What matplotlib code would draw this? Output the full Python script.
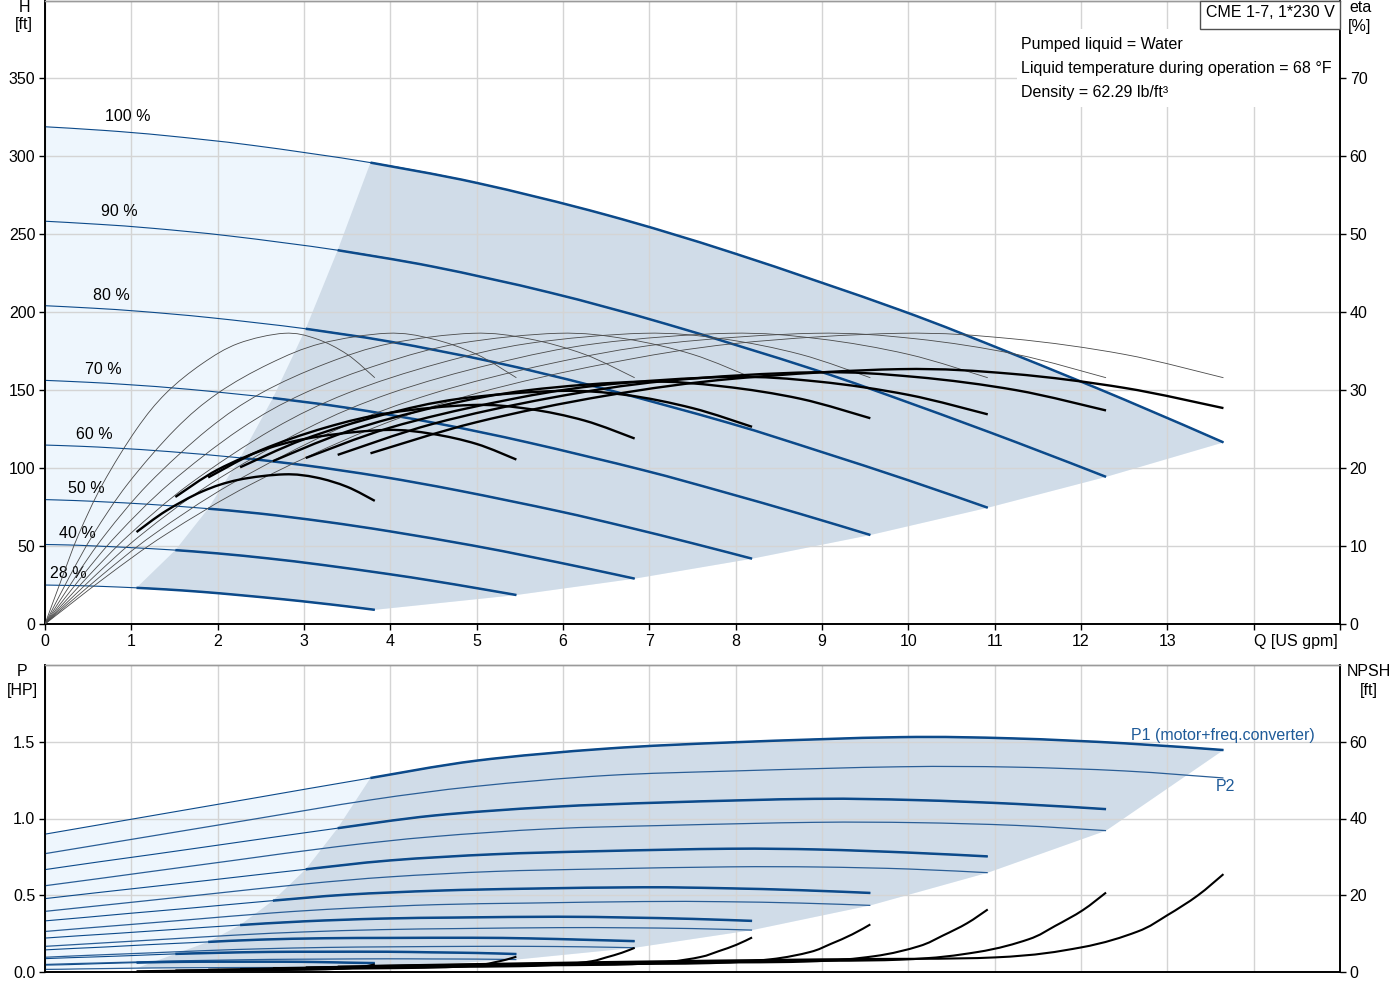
import matplotlib
matplotlib.use('Agg')
import matplotlib.pyplot as plt
from matplotlib.patches import Rectangle, Polygon, PathPatch
from matplotlib.path import Path

plt.rcParams['font.family'] = ['Liberation Sans', 'DejaVu Sans']
plt.rcParams['font.size'] = 11.5

# ---------------- data ----------------
speeds = [100, 90, 80, 70, 60, 50, 40, 28]
speed_labels = ['100 %', '90 %', '80 %', '70 %', '60 %', '50 %', '40 %', '28 %']

# flow points for each speed curve [US gpm]
q_100 = [0, 0.7, 1.4, 2.4, 3.77, 5.0, 6.5, 8.0, 9.9, 11.2, 12.5, 13.65]
q_90 = [0, 0.63, 1.26, 2.16, 3.39, 4.5, 5.85, 7.2, 8.91, 10.08, 11.25, 12.29]
q_80 = [0, 0.56, 1.12, 1.92, 3.02, 4.0, 5.2, 6.4, 7.92, 8.96, 10.0, 10.92]
q_70 = [0, 0.49, 0.98, 1.68, 2.64, 3.5, 4.55, 5.6, 6.93, 7.84, 8.75, 9.56]
q_60 = [0, 0.42, 0.84, 1.44, 2.26, 3.0, 3.9, 4.8, 5.94, 6.72, 7.5, 8.19]
q_50 = [0, 0.35, 0.7, 1.2, 1.89, 2.5, 3.25, 4.0, 4.95, 5.6, 6.25, 6.83]
q_40 = [0, 0.28, 0.56, 0.96, 1.51, 2.0, 2.6, 3.2, 3.96, 4.48, 5.0, 5.46]
q_28 = [0, 0.2, 0.39, 0.67, 1.06, 1.4, 1.82, 2.24, 2.77, 3.14, 3.5, 3.82]

# head [ft]
h_100 = [319, 316.6, 313.3, 307.1, 296.0, 283.0, 262.5, 237.5, 201.5, 173.5, 144.0, 116.5]
h_90 = [258.4, 256.4, 253.8, 248.8, 239.8, 229.2, 212.6, 192.4, 163.2, 140.5, 116.6, 94.4]
h_80 = [204.2, 202.6, 200.5, 196.5, 189.4, 181.1, 168.0, 152.0, 129.0, 111.0, 92.2, 74.6]
h_70 = [156.3, 155.1, 153.5, 150.5, 145.0, 138.7, 128.6, 116.4, 98.7, 85.0, 70.6, 57.1]
h_60 = [114.8, 114.0, 112.8, 110.6, 106.6, 101.9, 94.5, 85.5, 72.5, 62.5, 51.8, 41.9]
h_50 = [79.8, 79.2, 78.3, 76.8, 74.0, 70.8, 65.6, 59.4, 50.4, 43.4, 36.0, 29.1]
h_40 = [51.0, 50.7, 50.1, 49.1, 47.4, 45.3, 42.0, 38.0, 32.2, 27.8, 23.0, 18.6]
h_28 = [25.0, 24.8, 24.6, 24.1, 23.2, 22.2, 20.6, 18.6, 15.8, 13.6, 11.3, 9.1]

# hydraulic efficiency [%] (thin curves, same values along each speed curve)
eta_hyd = [0, 6.0, 11.5, 18.0, 25.0, 29.6, 33.4, 36.0, 37.3, 36.6, 34.6, 31.6]

# total efficiency [%] (thick curves, from the start of the operating range)
eta_100 = [21.9, 25.9, 29.3, 31.5, 32.7, 32.1, 30.3, 27.7]
eta_90 = [21.7, 25.7, 29.0, 31.2, 32.3, 31.7, 30.0, 27.4]
eta_80 = [21.3, 25.2, 28.4, 30.6, 31.7, 31.1, 29.4, 26.9]
eta_70 = [20.9, 24.7, 27.9, 30.0, 31.1, 30.5, 28.9, 26.4]
eta_60 = [20.1, 23.7, 26.8, 28.9, 29.9, 29.4, 27.7, 25.3]
eta_50 = [18.8, 22.3, 25.2, 27.1, 28.1, 27.6, 26.1, 23.8]
eta_40 = [16.3, 19.8, 22.6, 24.1, 24.9, 24.4, 23.1, 21.1]
eta_28 = [11.8, 14.5, 17.0, 18.5, 19.2, 18.8, 17.6, 15.8]

# P1 (motor + frequency converter) [HP]
p1_100 = [0.898, 0.966, 1.034, 1.131, 1.264, 1.377, 1.455, 1.497, 1.530, 1.522, 1.490, 1.446]
p1_90 = [0.667, 0.718, 0.767, 0.839, 0.937, 1.019, 1.075, 1.105, 1.128, 1.120, 1.095, 1.061]
p1_80 = [0.478, 0.514, 0.549, 0.599, 0.669, 0.727, 0.767, 0.787, 0.803, 0.798, 0.778, 0.753]
p1_70 = [0.333, 0.357, 0.382, 0.416, 0.465, 0.504, 0.530, 0.543, 0.552, 0.546, 0.533, 0.515]
p1_60 = [0.221, 0.237, 0.252, 0.275, 0.306, 0.330, 0.348, 0.355, 0.360, 0.355, 0.346, 0.333]
p1_50 = [0.144, 0.154, 0.163, 0.178, 0.196, 0.211, 0.220, 0.222, 0.223, 0.219, 0.210, 0.201]
p1_40 = [0.087, 0.093, 0.098, 0.106, 0.118, 0.125, 0.131, 0.132, 0.132, 0.128, 0.124, 0.117]
p1_28 = [0.045, 0.047, 0.050, 0.055, 0.061, 0.065, 0.067, 0.067, 0.067, 0.065, 0.061, 0.058]

# P2 (shaft power) [HP]
p2_100 = [0.771, 0.836, 0.901, 0.994, 1.121, 1.210, 1.280, 1.310, 1.337, 1.335, 1.310, 1.264]
p2_90 = [0.562, 0.609, 0.657, 0.725, 0.817, 0.882, 0.933, 0.955, 0.975, 0.973, 0.955, 0.921]
p2_80 = [0.395, 0.428, 0.461, 0.509, 0.574, 0.620, 0.655, 0.671, 0.685, 0.684, 0.671, 0.647]
p2_70 = [0.264, 0.287, 0.309, 0.341, 0.385, 0.415, 0.439, 0.449, 0.459, 0.458, 0.449, 0.434]
p2_60 = [0.167, 0.181, 0.195, 0.215, 0.242, 0.261, 0.276, 0.283, 0.289, 0.288, 0.283, 0.273]
p2_50 = [0.096, 0.105, 0.113, 0.124, 0.140, 0.151, 0.160, 0.164, 0.167, 0.167, 0.164, 0.158]
p2_40 = [0.049, 0.054, 0.058, 0.064, 0.072, 0.077, 0.082, 0.084, 0.086, 0.085, 0.084, 0.081]
p2_28 = [0.017, 0.018, 0.020, 0.022, 0.025, 0.027, 0.028, 0.029, 0.029, 0.029, 0.029, 0.028]

# NPSH curves [US gpm] / [ft]
nq_100 = [3.77, 6.5, 9.0, 11.0, 12.0, 12.65, 13.0, 13.35, 13.65]
nq_90 = [3.39, 5.85, 8.1, 9.9, 10.8, 11.39, 11.7, 12.02, 12.29]
nq_80 = [3.02, 5.2, 7.2, 8.8, 9.6, 10.12, 10.4, 10.68, 10.92]
nq_70 = [2.64, 4.55, 6.3, 7.7, 8.4, 8.86, 9.1, 9.35, 9.56]
nq_60 = [2.26, 3.9, 5.4, 6.6, 7.2, 7.59, 7.8, 8.01, 8.19]
nq_50 = [1.89, 3.25, 4.5, 5.5, 6.0, 6.33, 6.5, 6.68, 6.83]
nq_40 = [1.51, 2.6, 3.6, 4.4, 4.8, 5.06, 5.2, 5.34, 5.46]
nq_28 = [1.06, 1.82, 2.52, 3.08, 3.36, 3.54, 3.64, 3.74, 3.82]

npsh_100 = [1.6, 2.6, 3.3, 3.8, 6.4, 10.5, 14.8, 19.9, 25.5]
npsh_90 = [1.4, 2.2, 2.8, 3.2, 5.2, 8.5, 12.0, 16.1, 20.7]
npsh_80 = [1.2, 1.9, 2.4, 2.7, 4.1, 6.7, 9.5, 12.7, 16.3]
npsh_70 = [1.0, 1.6, 2.0, 2.3, 3.3, 5.2, 7.3, 9.8, 12.4]
npsh_60 = [0.8, 1.3, 1.7, 1.9, 2.6, 3.9, 5.4, 7.1, 9.0]
npsh_50 = [0.6, 1.0, 1.3, 1.5, 2.0, 2.8, 3.8, 5.0, 6.3]
npsh_40 = [0.4, 0.7, 0.9, 1.1, 1.4, 1.9, 2.5, 3.2, 4.0]
npsh_28 = [0.2, 0.4, 0.5, 0.6, 0.8, 1.0, 1.3, 1.6, 2.0]

x_ticks = list(range(0, 16))
x_tick_labels = [str(i) for i in range(0, 14)] + ['Q [US gpm]', '']
h_ticks = [0, 50, 100, 150, 200, 250, 300, 350]
eta_ticks = [0, 10, 20, 30, 40, 50, 60, 70]
p_ticks = [0.0, 0.5, 1.0, 1.5]
p_tick_labels = ['0.0', '0.5', '1.0', '1.5']
npsh_ticks = [0, 20, 40, 60]

info_lines = ['Pumped liquid = Water',
              'Liquid temperature during operation = 68 \u00b0F',
              'Density = 62.29 lb/ft\u00b3']
title_box = 'CME 1-7, 1*230 V'

Q = dict(zip(speeds, [q_100, q_90, q_80, q_70, q_60, q_50, q_40, q_28]))
H = dict(zip(speeds, [h_100, h_90, h_80, h_70, h_60, h_50, h_40, h_28]))
ETA = dict(zip(speeds, [eta_100, eta_90, eta_80, eta_70, eta_60, eta_50, eta_40, eta_28]))
P1 = dict(zip(speeds, [p1_100, p1_90, p1_80, p1_70, p1_60, p1_50, p1_40, p1_28]))
P2 = dict(zip(speeds, [p2_100, p2_90, p2_80, p2_70, p2_60, p2_50, p2_40, p2_28]))
NQ = dict(zip(speeds, [nq_100, nq_90, nq_80, nq_70, nq_60, nq_50, nq_40, nq_28]))
NPSH = dict(zip(speeds, [npsh_100, npsh_90, npsh_80, npsh_70, npsh_60, npsh_50, npsh_40, npsh_28]))

# ---------------- styling ----------------
BLUE = '#0C4A8A'
BLUE2 = '#2A5E96'
LIGHT = '#EEF6FD'
DARK = '#D0DCE8'
GRID = '#D4D4D4'
K0 = 4  # index where the operating range starts
FS = 11.5

label_pos = [(0.96, 325.6), (0.86, 264.7), (0.77, 210.9), (0.67, 163.5),
             (0.57, 121.8), (0.48, 87.2), (0.38, 58.3), (0.27, 32.7)]


def smooth_curve(ax, x, y, color, lw, zorder=3):
    """Draw a smooth Bezier curve passing through the given data points."""
    pts = list(zip(x, y))
    n = len(pts)
    verts = [pts[0]]
    codes = [Path.MOVETO]
    for i in range(n - 1):
        p0 = pts[i - 1] if i > 0 else pts[i]
        p1 = pts[i]
        p2 = pts[i + 1]
        p3 = pts[i + 2] if i + 2 < n else pts[i + 1]
        c1 = (p1[0] + (p2[0] - p0[0]) / 6.0, p1[1] + (p2[1] - p0[1]) / 6.0)
        c2 = (p2[0] - (p3[0] - p1[0]) / 6.0, p2[1] - (p3[1] - p1[1]) / 6.0)
        verts += [c1, c2, p2]
        codes += [Path.CURVE4] * 3
    patch = PathPatch(Path(verts, codes), facecolor='none', edgecolor=color,
                      lw=lw, zorder=zorder, capstyle='butt', joinstyle='round')
    ax.add_patch(patch)


fig = plt.figure(figsize=(14, 10), dpi=100)
ax_h = fig.add_axes([45 / 1400, 376 / 1000, 1295 / 1400, 623.5 / 1000])
ax_e = ax_h.twinx()
ax_p = fig.add_axes([45 / 1400, 28 / 1000, 1295 / 1400, 307 / 1000])
ax_n = ax_p.twinx()

# ---------- top panel: fills ----------
s_top, s_bot = speeds[0], speeds[-1]
ends = [(Q[s][-1], H[s][-1]) for s in speeds]
env = [(x, y) for x, y in zip(Q[s_top], H[s_top])] + ends[1:] + \
      [(x, y) for x, y in zip(Q[s_bot][::-1], H[s_bot][::-1])]
ax_h.add_patch(Polygon(env, closed=True, facecolor=LIGHT, edgecolor='none', zorder=0.8))
starts = [(Q[s][K0], H[s][K0]) for s in speeds]
op = [(x, y) for x, y in zip(Q[s_top][K0:], H[s_top][K0:])] + ends[1:] + \
     [(x, y) for x, y in zip(Q[s_bot][K0:][::-1], H[s_bot][K0:][::-1])] + starts[::-1][1:]
ax_h.add_patch(Polygon(op, closed=True, facecolor=DARK, edgecolor='none', zorder=0.9))

for s, lab, (lx, ly) in zip(speeds, speed_labels, label_pos):
    smooth_curve(ax_h, Q[s], H[s], BLUE, 0.8)
    smooth_curve(ax_h, Q[s][K0:], H[s][K0:], BLUE, 1.8)
    ax_h.text(lx, ly, lab, ha='center', va='center', fontsize=FS, zorder=5)
    smooth_curve(ax_e, Q[s], eta_hyd, '#4A4A4A', 0.6)
    smooth_curve(ax_e, Q[s][K0:], ETA[s], 'black', 1.7, zorder=4)

ax_h.set_xlim(0, 15)
ax_h.set_ylim(0, 400)
ax_e.set_ylim(0, 80)
ax_h.set_xticks(x_ticks)
ax_h.set_xticklabels(x_tick_labels)
ax_h.get_xticklabels()[14].set_ha('left')
ax_h.set_yticks(h_ticks)
ax_e.set_yticks(eta_ticks)
ax_h.grid(True, color=GRID, lw=1.0)
for ax in (ax_h, ax_e, ax_p, ax_n):
    ax.tick_params(direction='out', length=4, width=1, labelsize=FS, pad=3)
    for sp in ax.spines.values():
        sp.set_color('black')
        sp.set_linewidth(1.2)
    ax.spines['top'].set_color('#9A9A9A')
    ax.spines['top'].set_linewidth(1.0)

# info boxes
ax_e.add_patch(Rectangle((0.7506, 0.8285), 0.2484, 0.125, transform=ax_e.transAxes,
                         facecolor='white', edgecolor='none', zorder=1.6))
for i, line in enumerate(info_lines):
    ax_e.text(0.7537, 0.9295 - i * 0.0385, line, transform=ax_e.transAxes,
              ha='left', va='center', fontsize=FS, zorder=9)
ax_e.add_patch(Rectangle((0.892, 0.9535), 0.108, 0.0465, transform=ax_e.transAxes,
                         facecolor='white', edgecolor='#505050', lw=1.0, zorder=8, clip_on=False))
ax_e.text(0.946, 0.980, title_box, transform=ax_e.transAxes, ha='center', va='center',
          fontsize=FS, zorder=9)

# ---------- bottom panel ----------
p_ends = [(Q[s_top][-1], P1[s_top][-1])] + [(Q[s][-1], P2[s][-1]) for s in speeds[1:]]
penv = [(x, y) for x, y in zip(Q[s_top], P1[s_top])] + p_ends[1:] + \
       [(x, y) for x, y in zip(Q[s_bot][::-1], P2[s_bot][::-1])]
ax_p.add_patch(Polygon(penv, closed=True, facecolor=LIGHT, edgecolor='none', zorder=0.8))
p_starts = [(Q[s][K0], P1[s][K0]) for s in speeds]
pop = [(x, y) for x, y in zip(Q[s_top][K0:], P1[s_top][K0:])] + p_ends[1:] + \
      [(x, y) for x, y in zip(Q[s_bot][K0:][::-1], P2[s_bot][K0:][::-1])] + p_starts[::-1][1:]
ax_p.add_patch(Polygon(pop, closed=True, facecolor=DARK, edgecolor='none', zorder=0.9))

for s in speeds:
    smooth_curve(ax_p, Q[s], P2[s], BLUE2, 0.9)
    smooth_curve(ax_p, Q[s], P1[s], BLUE, 0.8)
    smooth_curve(ax_p, Q[s][K0:], P1[s][K0:], BLUE, 1.8)
    smooth_curve(ax_n, NQ[s], NPSH[s], 'black', 1.5, zorder=4)

ax_p.text(14.71, 1.539, 'P1 (motor+freq.converter)', ha='right', va='center',
          color='#1F5B99', fontsize=FS, zorder=5)
ax_p.text(13.67, 1.21, 'P2', ha='center', va='center', color='#1F5B99', fontsize=FS, zorder=5)

ax_p.set_xlim(0, 15)
ax_p.set_ylim(0, 2.0)
ax_n.set_ylim(0, 80)
ax_p.set_xticks(x_ticks)
ax_p.set_yticks(p_ticks)
ax_p.set_yticklabels(p_tick_labels)
ax_n.set_yticks(npsh_ticks)
ax_p.grid(True, color=GRID, lw=1.0)
ax_p.tick_params(axis='x', length=0, labelbottom=False)

# axis titles
fig.text(24 / 1400, 1 - 16 / 1000, 'H\n[ft]', ha='center', va='center', fontsize=FS,
         linespacing=1.25)
fig.text(1360 / 1400, 1 - 17 / 1000, 'eta\n[%]', ha='center', va='center', fontsize=FS,
         linespacing=1.25)
fig.text(22 / 1400, 1 - 681 / 1000, 'P\n[HP]', ha='center', va='center', fontsize=FS,
         linespacing=1.25)
fig.text(1369 / 1400, 1 - 681 / 1000, 'NPSH\n[ft]', ha='center', va='center', fontsize=FS,
         linespacing=1.25)

fig.savefig('out.png', dpi=100, facecolor='white')
